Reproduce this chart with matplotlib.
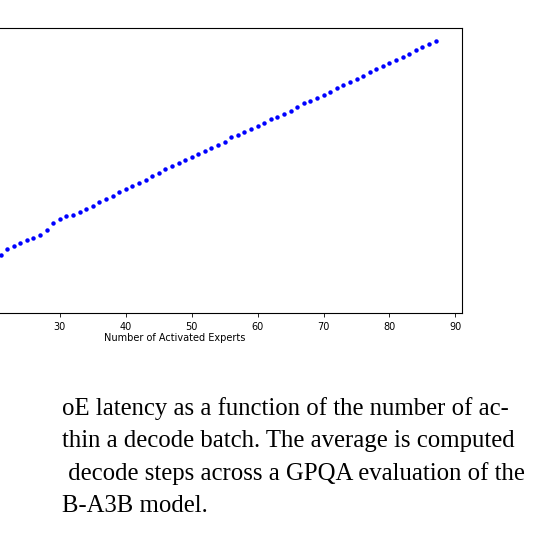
import matplotlib
matplotlib.use("Agg")
import matplotlib.pyplot as plt

experts = list(range(21, 88))
latency = [765,748,739,729,721,714,706,691,669,656,649,645,637,627,617,607,598,588,576,567,
           557,548,540,529,518,508,498,489,481,470,461,453,444,436,426,412,406,397,387,379,
           368,358,350,341,332,322,310,302,294,285,275,265,255,246,238,228,217,207,198,190,
           181,171,161,151,142,133,124]
latency = [(938 - v) / 3.0 for v in latency]
xticks = [30, 40, 50, 60, 70, 80, 90]

caption = ["oE latency as a function of the number of ac-",
           "thin a decode batch. The average is computed",
           " decode steps across a GPQA evaluation of the",
           "B-A3B model."]

W, H = 533, 546
fig = plt.figure(figsize=(W/100, H/100), dpi=100)
x_left = 0.0
px_per = 6.6
left_px = 0 - (20.9 - x_left) * px_per
right_px = 462
ax = fig.add_axes([left_px/W, 1-312.7/H, (right_px-left_px)/W, (312.7-28.3)/H])
ax.plot(experts, latency, linestyle='none', marker='o', ms=2.2, color='blue', mec='blue')
ax.set_xlim(x_left, 91)
ax.set_ylim(0, (938-85)/3.0)
ax.set_xticks(xticks)
ax.tick_params(labelsize=7, length=3, width=0.6)
ax.set_xlabel("Number of Activated Experts", fontsize=7, labelpad=1.5)
ax.xaxis.set_label_coords((175 - left_px)/(right_px-left_px), -0.07)
for s in ax.spines.values():
    s.set_linewidth(0.8)
ax.set_yticks([])

for i, line in enumerate(caption):
    fig.text(62/W, 1-(409 + 32.3*i)/H, line, family='Liberation Serif', fontsize=17.8,
             va='center', ha='left')

fig.savefig("out.png", dpi=100)
